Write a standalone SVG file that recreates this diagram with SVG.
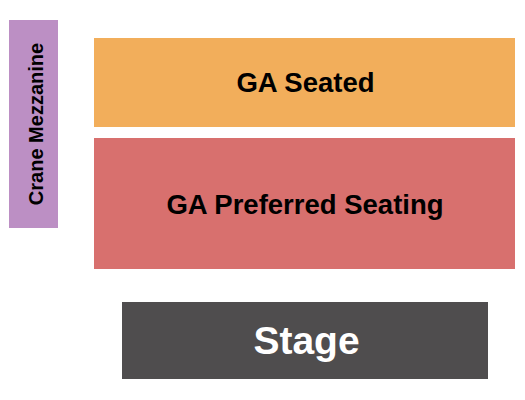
<svg xmlns="http://www.w3.org/2000/svg" width="525" height="400" viewBox="0 0 525 400">
<style>
text{font-family:"Liberation Sans",Arial,sans-serif;font-weight:bold;text-anchor:middle}
.d{fill:#000}
</style>
<rect width="525" height="400" fill="#fff"/>
<g id="crane-mezzanine">
<rect x="9" y="20" width="49" height="208" fill="#BC8FC4"/>
<text class="d" transform="translate(43,124) rotate(-90)" font-size="20">Crane Mezzanine</text>
</g>
<g id="ga-seated">
<rect x="94" y="38" width="421" height="89" fill="#F2AE5B"/>
<text class="d" x="305.5" y="92" font-size="27.5">GA Seated</text>
</g>
<g id="ga-preferred">
<rect x="94" y="138" width="421" height="131" fill="#D8706E"/>
<text class="d" x="305" y="214" font-size="27.5">GA Preferred Seating</text>
</g>
<g id="stage">
<rect x="122" y="302" width="366" height="77" fill="#4F4D4E"/>
<text x="306.5" y="353.5" font-size="39" fill="#fff">Stage</text>
</g>
<g id="connectors"/>
</svg>
